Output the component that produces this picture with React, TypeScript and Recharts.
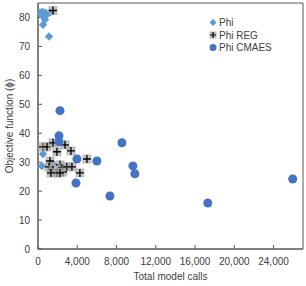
import React from 'react';
import { ScatterChart, Scatter, XAxis, YAxis, ReferenceArea } from 'recharts';

const phiX = [100, 400, 510, 710, 920, 710, 510, 1220, 1120, 510, 400, 1530];
const phiY = [81.7, 82, 80.3, 81.7, 81, 79.2, 77.5, 81.7, 73.4, 32.8, 28.7, 29.4];

const regX = [1530, 510, 920, 1530, 1930, 2750, 3360, 1220, 4990, 4270, 1120, 1530, 1320, 2240, 2440, 2540, 2950, 3460, 1930, 2240];
const regY = [82.4, 35.3, 35.3, 36.7, 33.6, 36, 33.9, 30.4, 31.1, 26.3, 28.4, 27.3, 26.3, 29.1, 28, 26.6, 28.4, 28.4, 26.3, 26.3];

const cmaesX = [2240, 2140, 2140, 3970, 6000, 8550, 9670, 9870, 3870, 7330, 17300, 25950];
const cmaesY = [47.8, 39.1, 37, 31.1, 30.4, 36.7, 28.7, 26, 22.8, 18.3, 15.9, 24.2];

const xTicks = [0, 4000, 8000, 12000, 16000, 20000, 24000];
const yTicks = [0, 10, 20, 30, 40, 50, 60, 70, 80];

const seriesNames = ['Phi', 'Phi REG', 'Phi CMAES'];

const toPts = (xs: number[], ys: number[]) => xs.map((x, i) => ({ x, y: ys[i] }));
const phiData = toPts(phiX, phiY);
const regData = toPts(regX, regY);
const cmaesData = toPts(cmaesX, cmaesY);

const PHI_COLOR = '#5B9BD5';
const CMAES_COLOR = '#4472C4';
const AXIS = '#595959';
const TEXT = '#404040';
const FONT = "'Liberation Sans', Arial, sans-serif";

const Diamond = (p: any) => {
  const { cx, cy } = p;
  const r = 4.2;
  return <path d={`M${cx},${cy - r}L${cx + r},${cy}L${cx},${cy + r}L${cx - r},${cy}Z`} fill={PHI_COLOR} />;
};

const PlusSq = (p: any) => {
  const { cx, cy } = p;
  const s = 4.5;
  return (
    <g>
      <rect x={cx - s} y={cy - s} width={2 * s} height={2 * s} fill="#A6A6A6" fillOpacity={0.7} />
      <path d={`M${cx - s + 0.5},${cy}H${cx + s - 0.5}M${cx},${cy - s + 0.5}V${cy + s - 0.5}`} stroke="#000" strokeWidth={1.3} />
    </g>
  );
};

const Dot = (p: any) => {
  const { cx, cy } = p;
  return <circle cx={cx} cy={cy} r={4.5} fill={CMAES_COLOR} />;
};

const LegendBox = () => (
  <svg width={80} height={40} style={{ position: 'absolute', left: 208, top: 16, overflow: 'visible' }}>
    <g fontFamily={FONT} fontSize={10} fill={TEXT}>
      <path d="M5,3L8.5,6.5L5,10L1.5,6.5Z" fill={PHI_COLOR} />
      <text x={11} y={10}>{seriesNames[0]}</text>
      <rect x={1.5} y={15.5} width={7} height={7} fill="#A6A6A6" fillOpacity={0.7} />
      <path d="M2,19H8M5,16V22" stroke="#000" strokeWidth={1.2} />
      <text x={11} y={23}>{seriesNames[1]}</text>
      <circle cx={5} cy={31.5} r={3.5} fill={CMAES_COLOR} />
      <text x={11} y={35}>{seriesNames[2]}</text>
    </g>
  </svg>
);

export default function App() {
  return (
    <div style={{ position: 'absolute', left: 0, top: 0, width: 306, height: 286, background: '#fff' }}>
      <ScatterChart
        width={306}
        height={286}
        margin={{ top: 3, right: 3, left: 0, bottom: 0 }}
        style={{ fontFamily: FONT, fontSize: 10 }}
      >
        <XAxis
          type="number"
          dataKey="x"
          domain={[0, 27000]}
          ticks={xTicks}
          allowDataOverflow
          height={37}
          stroke={AXIS}
          tickSize={-4}
          tickMargin={13}
          tick={{ fill: TEXT, fontSize: 10 }}
          tickFormatter={(v: number) => v.toLocaleString('en-US')}
          label={{ value: 'Total model calls', position: 'insideBottom', offset: 6, fill: TEXT, fontSize: 10 }}
        />
        <YAxis
          type="number"
          dataKey="y"
          domain={[0, 85]}
          ticks={yTicks}
          allowDataOverflow
          width={38}
          stroke={AXIS}
          tickSize={-4}
          tickMargin={12}
          tick={{ fill: TEXT, fontSize: 10 }}
          label={{ value: 'Objective function (ϕ)', angle: -90, position: 'insideLeft', offset: 9, fill: TEXT, fontSize: 10, style: { textAnchor: 'middle' } }}
        />
        <ReferenceArea x1={0} x2={27000} y1={0} y2={85} fill="none" stroke={AXIS} strokeWidth={1} />
        <Scatter name={seriesNames[0]} data={phiData} shape={Diamond} isAnimationActive={false} />
        <Scatter name={seriesNames[1]} data={regData} shape={PlusSq} isAnimationActive={false} />
        <Scatter name={seriesNames[2]} data={cmaesData} shape={Dot} isAnimationActive={false} />
      </ScatterChart>
      <LegendBox />
    </div>
  );
}
